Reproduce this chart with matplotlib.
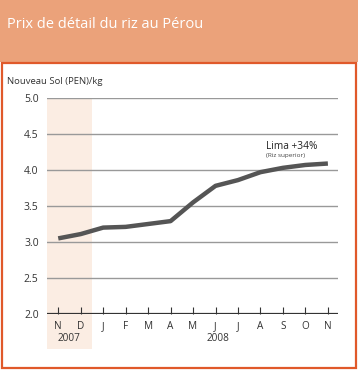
import matplotlib.pyplot as plt
from matplotlib.patches import Rectangle
from matplotlib.transforms import blended_transform_factory
import numpy as np

plt.rcParams['font.family'] = ['Open Sans', 'DejaVu Sans']

months = ['N', 'D', 'J', 'F', 'M', 'A', 'M', 'J', 'J', 'A', 'S', 'O', 'N']
prices = [3.05, 3.11, 3.20, 3.21, 3.25, 3.29, 3.55, 3.78, 3.86, 3.97, 4.03, 4.07, 4.09]
yticks = [2.0, 2.5, 3.0, 3.5, 4.0, 4.5, 5.0]

W, H = 358, 370
fig = plt.figure(figsize=(W / 100, H / 100), dpi=100)
fig.patch.set_facecolor('white')

# header band + frame
fig.add_artist(Rectangle((0, (H - 62) / H), 1, 62 / H, transform=fig.transFigure,
                         facecolor='#eba27a', edgecolor='none'))
fig.add_artist(Rectangle((1.5 / W, 2.5 / H), (W - 4) / W, (H - 65) / H, transform=fig.transFigure,
                         facecolor='none', edgecolor='#e0592a', linewidth=1.6))
fig.text(7 / W, (H - 25) / H, 'Prix de détail du riz au Pérou', color='white',
         fontsize=10.5, va='center', ha='left')

ax = fig.add_axes([47 / W, (H - 314) / H, (338 - 47) / W, (314 - 98) / H])
x = np.arange(len(months))

# shaded 2007 band
trans = blended_transform_factory(ax.transData, ax.transAxes)
ax.add_patch(Rectangle((-0.5, -0.162), 2, 1.162, transform=trans, facecolor='#fbede3',
                       edgecolor='none', clip_on=False, zorder=0))

for v in yticks[1:]:
    ax.axhline(v, color='#999999', lw=1.0, zorder=1)
ax.axhline(2.0, color='#333333', lw=1.6, zorder=3)

ax.plot(x, prices, color='#555555', lw=3.2, solid_capstyle='butt', zorder=4)

ax.set_xlim(-0.5, 12.45)
ax.set_ylim(2.0, 5.0)
ax.set_yticks(yticks)
ax.set_yticklabels([f'{v:.1f}' for v in yticks])
ax.set_xticks(x)
ax.set_xticklabels(months)
ax.tick_params(axis='y', length=0, labelsize=7.5, colors='#333333', pad=6)
ax.tick_params(axis='x', direction='in', length=5, width=0.8, color='#333333',
               labelsize=7.2, labelcolor='#333333', pad=5)
for s in ax.spines.values():
    s.set_visible(False)
ax.set_facecolor('none')

ax.text(0.5, -0.113, '2007', transform=trans, ha='center', va='center', fontsize=7.2, color='#333333')
ax.text(7.1, -0.113, '2008', transform=trans, ha='center', va='center', fontsize=7.2, color='#333333')

ax.text(9.23, 4.32, 'Lima +34%', fontsize=7.3, color='#222222', ha='left', va='center')
ax.text(9.24, 4.2, '(Riz superior)', fontsize=4.6, color='#444444', ha='left', va='center')

fig.text(7 / W, (H - 82) / H, 'Nouveau Sol (PEN)/kg', fontsize=6.8, color='#333333',
         ha='left', va='center')

fig.savefig('out.png', dpi=100)
